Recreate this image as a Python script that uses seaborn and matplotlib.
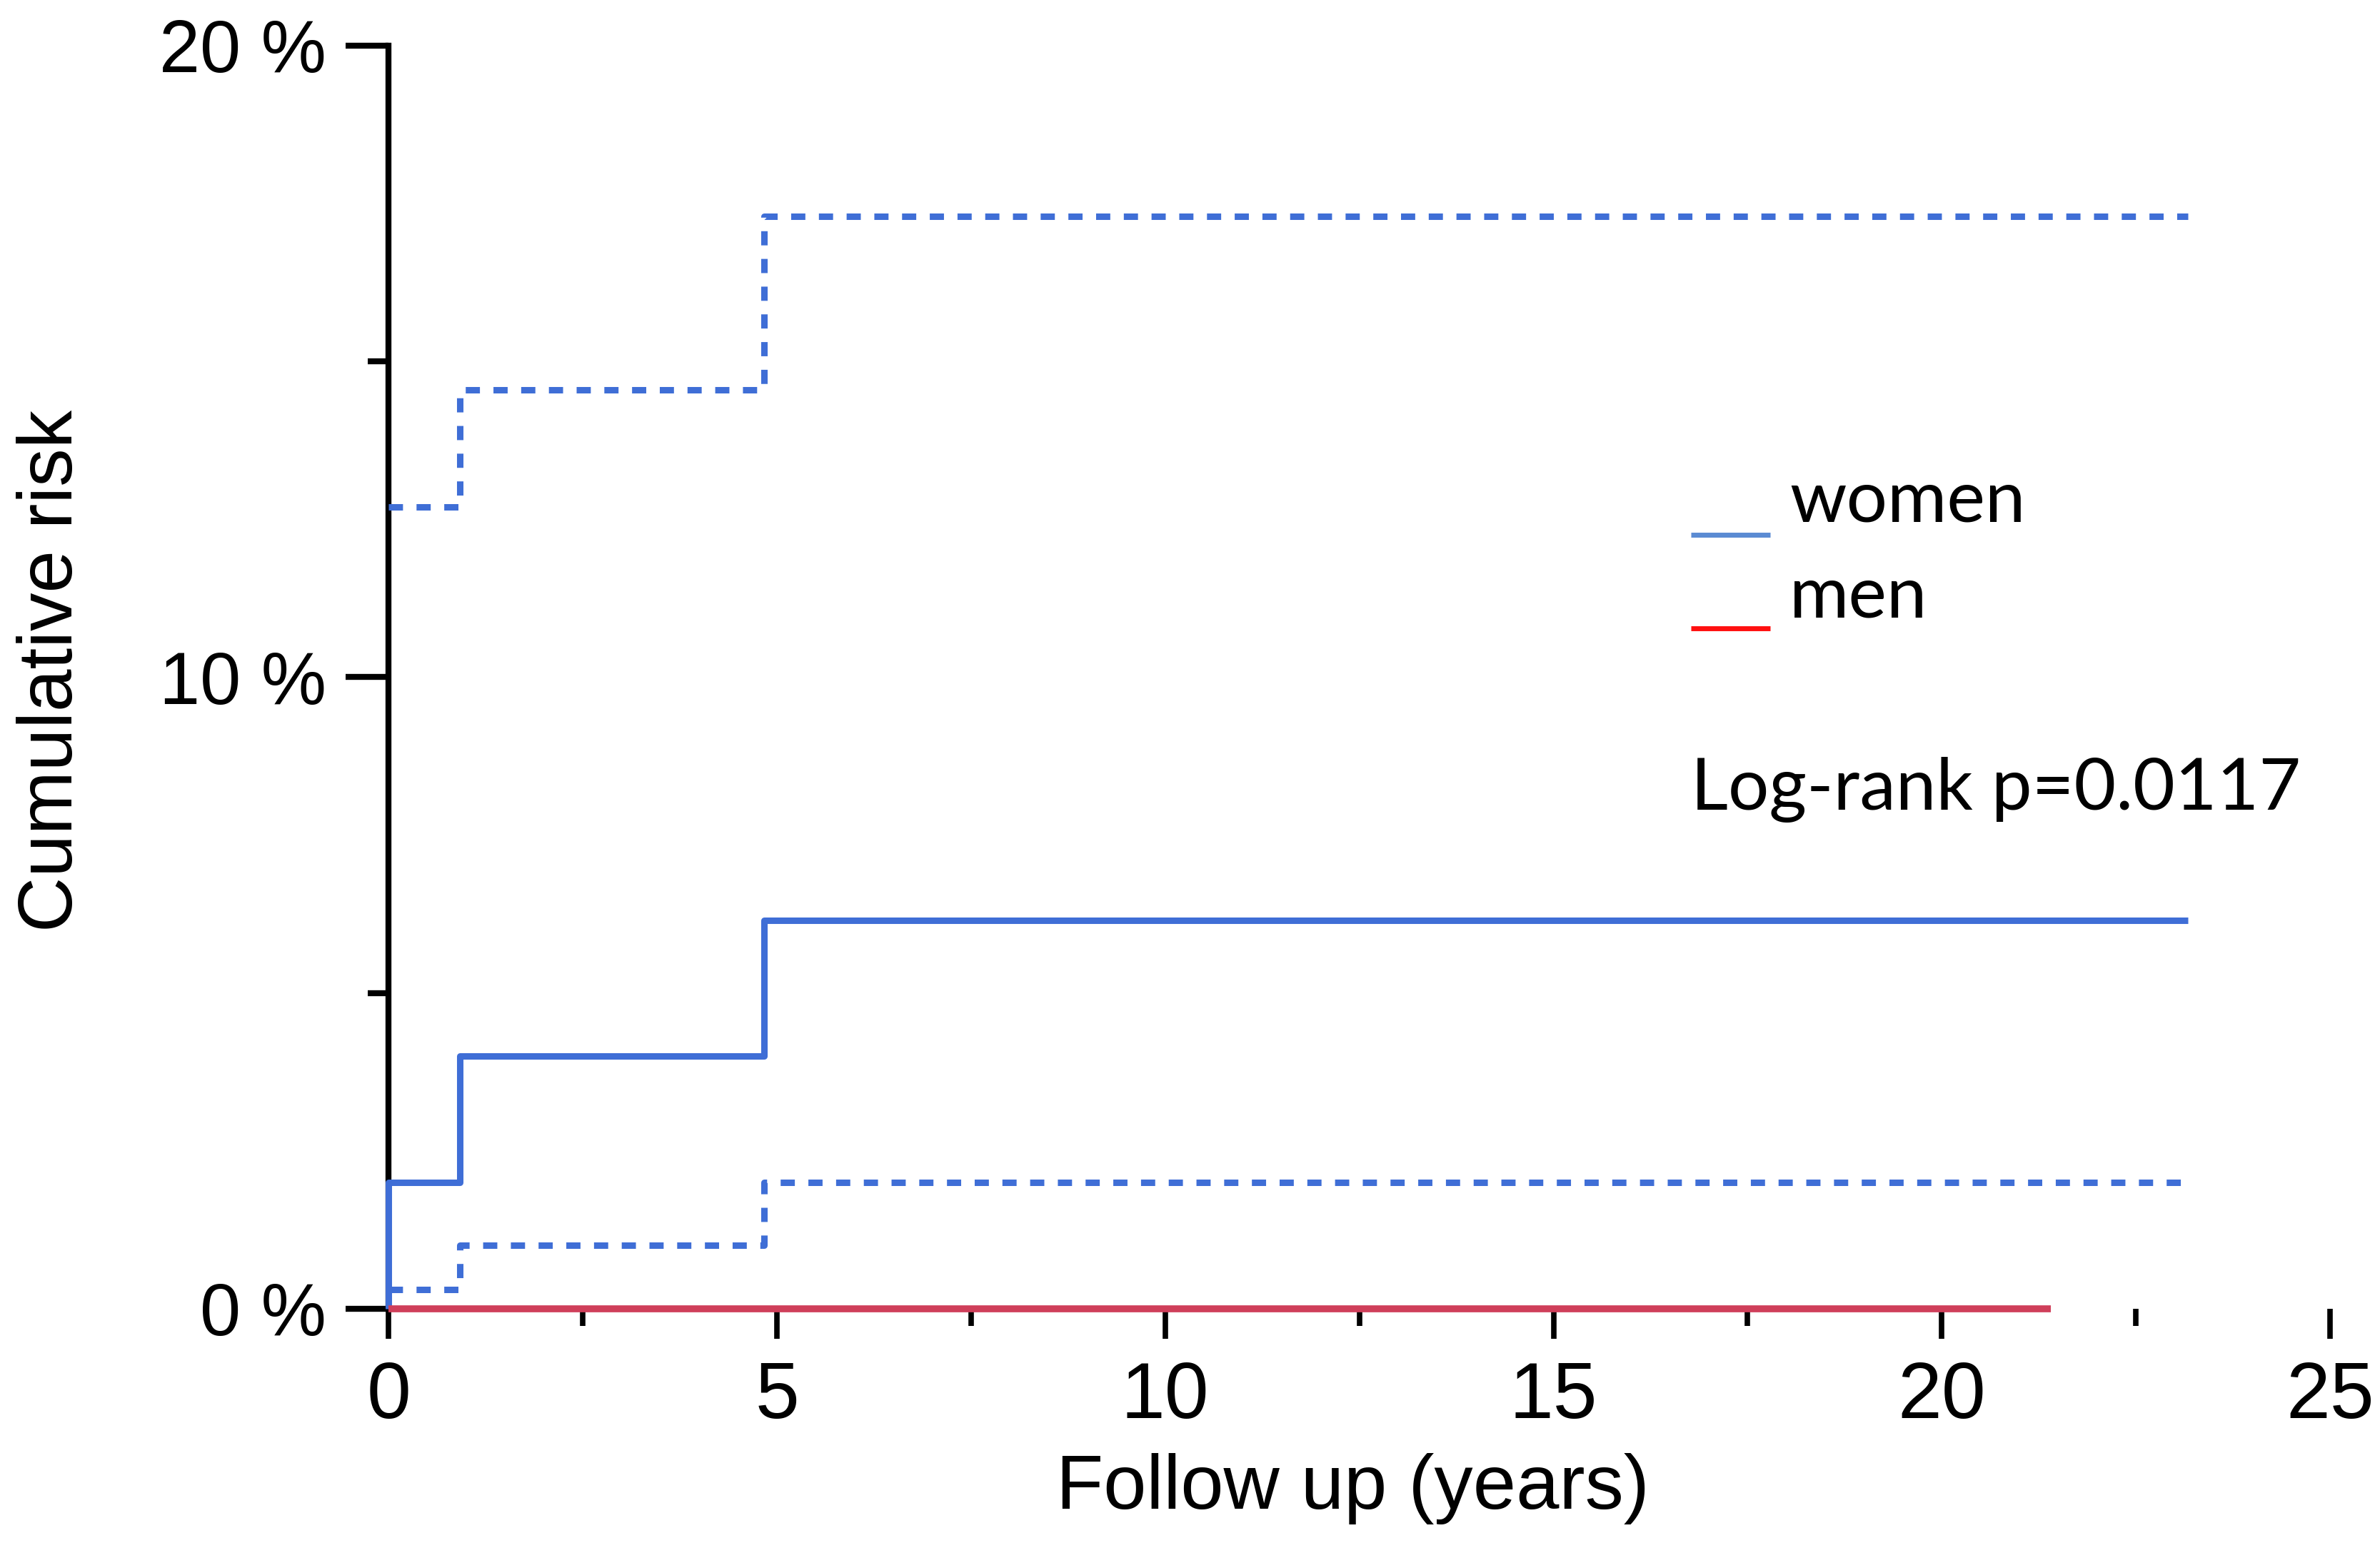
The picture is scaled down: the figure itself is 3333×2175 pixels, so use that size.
import numpy as np
import pandas as pd
import matplotlib
matplotlib.use('Agg')
import matplotlib.pyplot as plt
import seaborn as sns
from matplotlib.ticker import MultipleLocator

# cumulative risk curves (time in years, risk in %)
women_t = [0, 0, 0.92, 4.83, 23.17]
women_risk = [0, 2.0, 4.0, 6.15, 6.15]
upper_t = [0, 0.92, 4.83, 23.17]
upper_risk = [12.7, 14.55, 17.3, 17.3]
lower_t = [0, 0.92, 4.83, 23.17]
lower_risk = [0.3, 1.0, 2.0, 2.0]
men_t = [0, 21.4]
men_risk = [0, 0]

xticks = [0, 5, 10, 15, 20, 25]
yticks = [0, 10, 20]
ytick_labels = ['0 %', '10 %', '20 %']
legend_names = ['women', 'men']
pvalue_text = 'Log-rank p=0.0117'

blue = '#3F6ED6'
red = '#CF3F5A'

sns.set_style('ticks')
plt.rcParams['font.family'] = ['Liberation Sans', 'DejaVu Sans']

fig = plt.figure(figsize=(33.33, 21.75), dpi=100)
ax = fig.add_axes([0.1633, 0.1573, 0.979 - 0.1633, 0.9706 - 0.1573])

lw = 6.5
dots = (2.2, 2.1)
sns.lineplot(x=upper_t, y=upper_risk, ax=ax, color=blue, linewidth=lw, drawstyle='steps-post',
             estimator=None, sort=False, clip_on=False, zorder=3)
ax.lines[-1].set_dashes(dots)
sns.lineplot(x=lower_t, y=lower_risk, ax=ax, color=blue, linewidth=lw, drawstyle='steps-post',
             estimator=None, sort=False, clip_on=False, zorder=3)
ax.lines[-1].set_dashes(dots)
sns.lineplot(x=women_t, y=women_risk, ax=ax, color=blue, linewidth=lw, drawstyle='steps-post',
             estimator=None, sort=False, clip_on=False, zorder=3)
sns.lineplot(x=men_t, y=men_risk, ax=ax, color=red, linewidth=7, estimator=None, sort=False,
             clip_on=False, zorder=4)
for ln in ax.lines:
    ln.set_dash_capstyle('butt')
    ln.set_solid_capstyle('butt')

ax.set_xlim(0, 25)
ax.set_ylim(0, 20)
ax.set_xticks(xticks)
ax.set_xticklabels([str(v) for v in xticks])
ax.set_yticks(yticks)
ax.set_yticklabels(ytick_labels)
ax.xaxis.set_minor_locator(MultipleLocator(2.5))
ax.yaxis.set_minor_locator(MultipleLocator(5))

for s in ['top', 'right', 'bottom']:
    ax.spines[s].set_visible(False)
ax.spines['left'].set_linewidth(6)
ax.spines['left'].set_color('black')

ax.tick_params(axis='y', which='major', length=43, width=6, pad=20, labelsize=74,
               colors='black', labelcolor='black')
ax.tick_params(axis='y', which='minor', length=21, width=6, colors='black')
ax.tick_params(axis='x', which='major', length=30, width=5.5, pad=22, labelsize=80,
               colors='black', labelcolor='black')
ax.tick_params(axis='x', which='minor', length=17, width=5.5, colors='black')

ax.set_xlabel('Follow up (years)', fontsize=78, color='black')
ax.xaxis.set_label_coords(0.4966, -0.114)
ax.set_ylabel('Cumulative risk', fontsize=77, color='black')
ax.yaxis.set_label_coords(-0.155, 0.505)

# legend drawn like the original (short line under the text start)
leg_font = ['Lato', 'DejaVu Sans']
for name, col, yline, ytxt in [(legend_names[0], '#5B8BD3', 12.26, 12.79),
                               (legend_names[1], '#FF1010', 10.77, 11.27)]:
    ax.plot([16.77, 17.79], [yline, yline], color=col, lw=5, solid_capstyle='butt')
    ax.text(18.04, ytxt, name, fontsize=73, family=leg_font, va='center', ha='left', color='black')
ax.text(16.77, 8.22, pvalue_text, fontsize=73, family=leg_font, va='center', ha='left', color='black')

fig.savefig('out.png', dpi=100, facecolor='white')
